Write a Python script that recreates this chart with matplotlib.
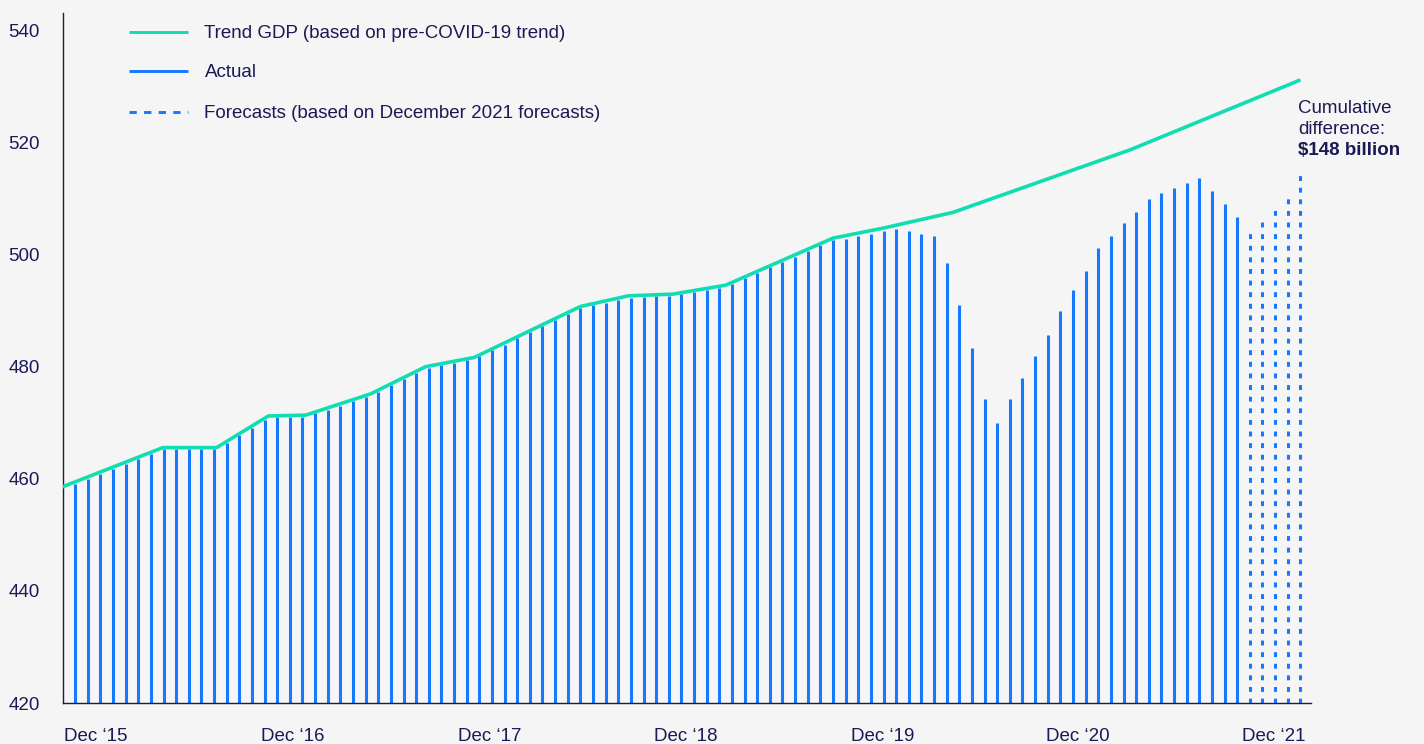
import numpy as np
import matplotlib
matplotlib.use("Agg")
import matplotlib.pyplot as plt
from matplotlib.lines import Line2D

plt.rcParams['font.family'] = ['Liberation Sans', 'DejaVu Sans']

# ---------------- data ----------------
actual = [459.1, 460.0, 460.9, 461.8, 462.7, 463.6, 464.5, 465.3, 465.3, 465.3,
          465.3, 465.3, 466.4, 467.8, 469.1, 470.5, 471.0, 471.0, 471.1, 471.7,
          472.4, 473.1, 473.9, 474.6, 475.6, 476.7, 477.8, 478.9, 479.9, 480.3,
          480.7, 481.2, 481.9, 483.0, 484.0, 485.1, 486.2, 487.3, 488.3, 489.4,
          490.5, 491.0, 491.5, 492.0, 492.4, 492.5, 492.6, 492.7, 493.0, 493.4,
          493.7, 494.1, 494.8, 495.8, 496.8, 497.8, 498.7, 499.7, 500.7, 501.7,
          502.7, 502.9, 503.3, 503.8, 504.3, 504.7, 504.3, 503.8, 503.3, 498.6,
          491.0, 483.3, 474.3, 470.0, 474.3, 478.1, 481.9, 485.7, 490.0, 493.8,
          497.1, 501.3, 503.3, 505.7, 507.6, 510.0, 511.0, 511.9, 512.9, 513.8,
          511.4, 509.1, 506.7]
forecast = [504.3, 506.2, 508.6, 511.0, 514.3]

trend_x = [0.0, 7.94, 12.2, 16.3, 19.25, 24.4, 28.75, 32.6, 41.0, 44.8,
           48.3, 52.5, 61.0, 65.0, 70.5, 84.5, 98.0]
trend_y = [458.6, 465.6, 465.6, 471.25, 471.4, 475.2, 480.05, 481.7, 490.8, 492.7,
           493.0, 494.6, 503.0, 504.8, 507.6, 518.75, 531.25]

x_tick_pos = [0.1, 15.7, 31.3, 46.8, 62.4, 77.9, 93.4]
x_tick_labels = ["Dec \u201815", "Dec \u201816", "Dec \u201817", "Dec \u201818",
                 "Dec \u201819", "Dec \u201820", "Dec \u201821"]
y_ticks = [420, 440, 460, 480, 500, 520, 540]

legend_labels = ["Trend GDP (based on pre-COVID-19 trend)", "Actual",
                 "Forecasts (based on December 2021 forecasts)"]
note_lines = ["Cumulative", "difference:", "$148 billion"]

# ---------------- style ----------------
BG = '#f5f5f5'
NAVY = '#1b1a55'
TEAL = '#10deb0'
BLUE = '#1479ff'
FS = 13.5

W, H = 1424, 744
fig = plt.figure(figsize=(W / 100, H / 100), dpi=100, facecolor=BG)
ax = fig.add_axes([62.5 / W, 1 - 703 / H, (1311 - 62.5) / W, (703 - 13) / H])
ax.set_facecolor(BG)

n_act = len(actual)
x_act = np.arange(1, n_act + 1)
x_fc = np.arange(n_act + 1, n_act + len(forecast) + 1)

ax.vlines(x_act, 420, actual, color=BLUE, lw=2.2, zorder=2)
ax.vlines(x_fc, 420, forecast, color=BLUE, lw=2.2, linestyles=[(0, (1.6, 2.2))], zorder=2)
ax.plot(trend_x, trend_y, color=TEAL, lw=2.6, solid_joinstyle='round',
        solid_capstyle='butt', zorder=3)

ax.set_xlim(0, 98.84)
ax.set_ylim(420, 543.2)

for s in ['top', 'right']:
    ax.spines[s].set_visible(False)
for s in ['left', 'bottom']:
    ax.spines[s].set_color(NAVY)
    ax.spines[s].set_linewidth(1.0)

ax.set_yticks(y_ticks)
ax.set_yticklabels([str(v) for v in y_ticks])
ax.set_xticks(x_tick_pos)
ax.set_xticklabels(x_tick_labels, ha='left')
ax.tick_params(axis='y', length=0, pad=16.2, labelsize=FS, labelcolor=NAVY)
ax.tick_params(axis='x', length=0, pad=17.8, labelsize=FS, labelcolor=NAVY)

# ---------------- legend (manual) ----------------
def fx(px):
    return px / W

def fy(py):
    return 1 - py / H

leg_rows = [31.7, 70.7, 112.3]
leg_base = [38.5, 76.9, 118.5]
leg_styles = [dict(color=TEAL, lw=2.1, ls='-'),
              dict(color=BLUE, lw=2.1, ls='-'),
              dict(color=BLUE, lw=2.1, ls=(0, (2.5, 2.5)))]
for yrow, yb, st, lab in zip(leg_rows, leg_base, leg_styles, legend_labels):
    fig.add_artist(Line2D([fx(129), fx(187.5)], [fy(yrow), fy(yrow)],
                          transform=fig.transFigure, solid_capstyle='butt',
                          dash_capstyle='butt', **st))
    fig.text(fx(204.5), fy(yb), lab, fontsize=FS, color=NAVY, va='baseline', ha='left')

# ---------------- annotation ----------------
note_base = [113.3, 133.5, 155.0]
for i, (txt, yb) in enumerate(zip(note_lines, note_base)):
    fig.text(fx(1298.3), fy(yb), txt, fontsize=FS, color=NAVY, va='baseline', ha='left',
             fontweight='bold' if i == 2 else 'normal')

fig.savefig('out.png', dpi=100, facecolor=BG)
